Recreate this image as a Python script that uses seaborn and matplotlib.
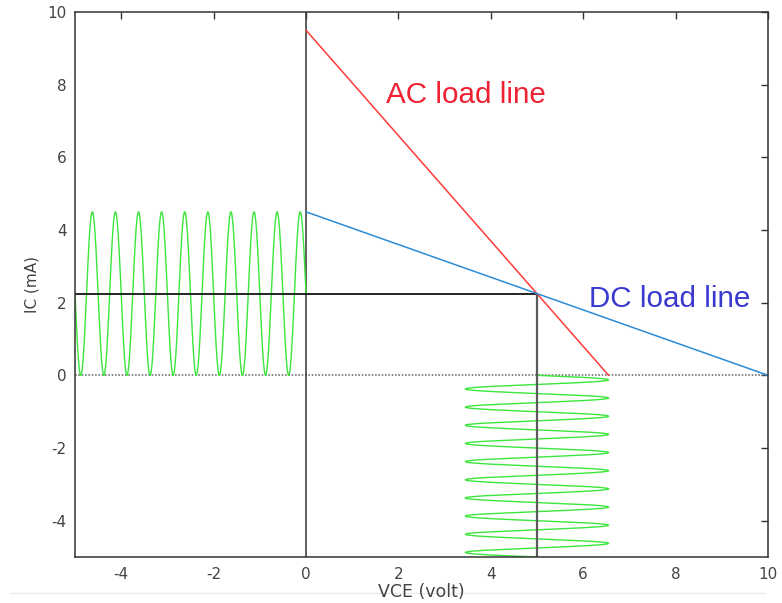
import matplotlib
matplotlib.use("Agg")
import matplotlib.pyplot as plt
import numpy as np
import seaborn as sns

sns.set_theme(style="white")
plt.rcParams["font.family"] = ["DejaVu Sans"]
plt.rcParams["axes.unicode_minus"] = False

# load lines (VCE in volt, IC in mA)
ac_vce = [0, 6.55]
ac_ic = [9.5, 0]
dc_vce = [0, 10]
dc_ic = [4.5, 0]

# quiescent point
q_vce = 5
q_ic = 2.25

# signal swing
ic_amp = 2.25
vce_amp = 1.55
cycles_per_unit = 2
t_end = 5

xticks = [-4, -2, 0, 2, 4, 6, 8, 10]
yticks = [-4, -2, 0, 2, 4, 6, 8, 10]

t = np.linspace(0, t_end, 2001)
phase = np.sin(2 * np.pi * cycles_per_unit * t)

fig = plt.figure(figsize=(7.82, 6.03), dpi=100)
ax = fig.add_axes([75 / 782, 1 - 557 / 603, 693 / 782, 545 / 603])

green = "#3ce63c"
line_kw = dict(sort=False, estimator=None, ax=ax)

# axis lines through origin
ax.axhline(0, color="#777777", lw=1.2, ls=(0, (1, 1)), zorder=1)
ax.axvline(0, color="#333333", lw=1.1, zorder=1)

# input current wave on the left
sns.lineplot(x=-t, y=q_ic + ic_amp * phase, color=green, lw=1, **line_kw)
# output voltage wave below
sns.lineplot(x=q_vce + vce_amp * phase, y=-t, color=green, lw=1, **line_kw)

# Q point projections
sns.lineplot(x=[-5, q_vce], y=[q_ic, q_ic], color="black", lw=1.2, **line_kw)
sns.lineplot(x=[q_vce, q_vce], y=[-5, q_ic], color="#5a5a5a", lw=1.6, **line_kw)

sns.lineplot(x=ac_vce, y=ac_ic, color="#ff3b3b", lw=1.1, **line_kw)
sns.lineplot(x=dc_vce, y=dc_ic, color="#2b8bd4", lw=1.1, **line_kw)

ax.text(1.74, 7.49, "AC load line", color="#ee2233", fontsize=21.3,
        family=["Liberation Sans", "DejaVu Sans"], va="baseline", ha="left")
ax.text(6.12, 1.88, "DC load line", color="#3a3ad0", fontsize=21.3,
        family=["Liberation Sans", "DejaVu Sans"], va="baseline", ha="left")

ax.set_xlim(-5, 10)
ax.set_ylim(-5, 10)
ax.set_xticks(xticks)
ax.set_yticks(yticks)
ax.tick_params(direction="in", length=5, width=1, colors="#333333",
               top=True, right=True, labelsize=11, labelcolor="#444444")
ax.tick_params(axis="x", pad=7)
ax.tick_params(axis="y", pad=6)
for s in ax.spines.values():
    s.set_color("#333333")
    s.set_linewidth(1.1)

ax.set_xlabel("VCE (volt)", fontsize=12.5, color="#444444", labelpad=1)
ax.set_ylabel("IC (mA)", fontsize=11, color="#444444", labelpad=6)

# faint separator under the chart
fig.add_artist(plt.Line2D([10 / 782, 765 / 782], [1 - 593 / 603, 1 - 593 / 603],
                          color="#ececec", lw=1, zorder=0))

fig.savefig("out.png", dpi=100)
